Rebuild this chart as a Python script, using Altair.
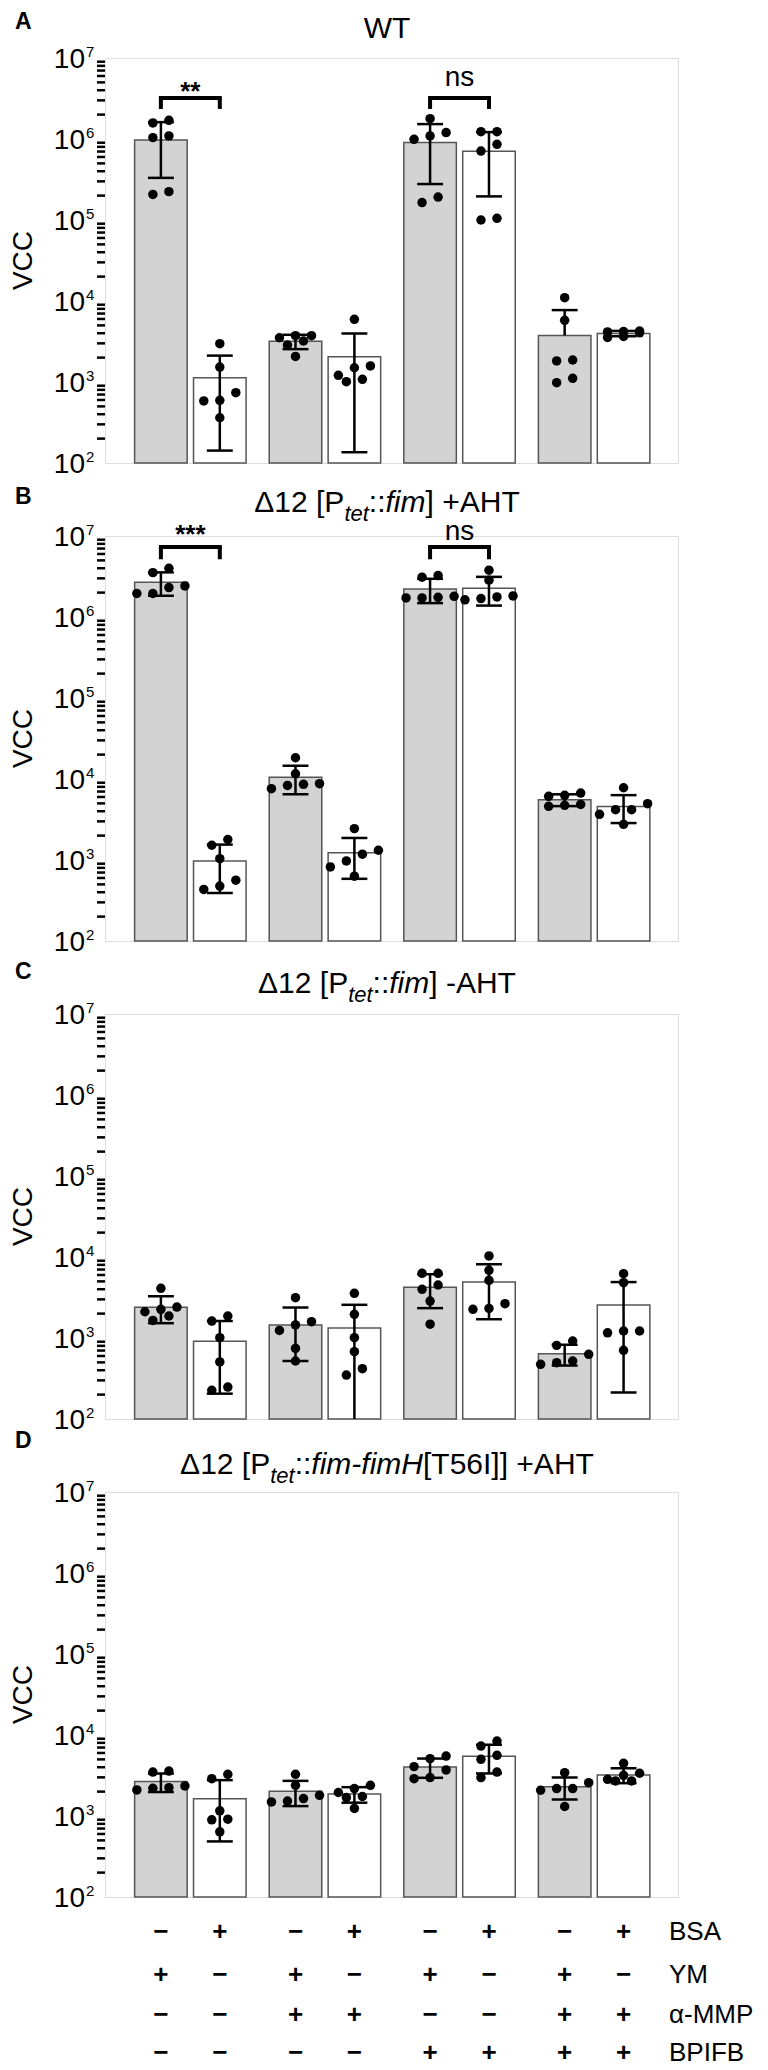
import numpy as np
import pandas as pd
import altair as alt

# ---------------- data ----------------
panel_letters = ["A", "B", "C", "D"]
# six replicate dots per bar; bar order: group0 (BSA-, BSA+), group1 (...), group2, group3
wt_dots = [
    [1.58e6, 1.70e6, 1.04e6, 1.09e6, 2.07e5, 2.24e5],
    [2970, 1530, 738, 594, 584, 362],
    [3730, 3210, 3730, 3520, 2860, 2070],
    [5940, 1580, 1500, 1010, 1210, 1080],
    [1.78e6, 1.20e6, 9.9e5, 1.09e6, 1.64e5, 1.92e5],
    [1.23e6, 1.23e6, 7.1e5, 8.6e5, 1.0e5, 1.05e5],
    [11000, 5770, 1820, 1870, 980, 1110],
    [4250, 4150, 4050, 4200, 3550, 3650],
]
aht_dots = [
    [3.53e6, 4.0e6, 1.95e6, 2.42e6, 1.95e6, 2.31e6],
    [1790, 1520, 1040, 564, 433, 476],
    [18300, 11600, 7590, 8750, 8340, 8590],
    [2440, 1320, 1180, 975, 822, 632],
    [3.10e6, 3.25e6, 1.72e6, 1.80e6, 1.72e6, 1.75e6],
    [3.78e6, 2.85e6, 1.63e6, 1.82e6, 1.69e6, 1.77e6],
    [6110, 6710, 6280, 4600, 4860, 4730],
    [7800, 4180, 4960, 4180, 3660, 2760],
]
noaht_dots = [
    [4100, 2260, 2110, 2410, 1650, 1870],
    [1620, 1870, 1010, 506, 226, 248],
    [3150, 1590, 1450, 1240, 745, 520],
    [3560, 1960, 1010, 678, 349, 418],
    [6280, 6280, 3990, 4510, 2860, 1480],
    [10300, 6840, 5150, 2650, 2260, 2320],
    [811, 918, 629, 520, 473, 496],
    [6220, 4820, 1220, 1160, 1220, 705],
]
t56i_dots = [
    [3490, 3590, 2100, 2350, 2200, 2240],
    [2890, 3270, 1160, 914, 898, 638],
    [3270, 2390, 1800, 1490, 1530, 1640],
    [2390, 2180, 1950, 1740, 1690, 1240],
    [5100, 5500, 3700, 4070, 2890, 2980],
    [8410, 7310, 5010, 5610, 2980, 3490],
    [3430, 2580, 2180, 2180, 2080, 1310],
    [4470, 3370, 3180, 2710, 2840, 2710],
]
panel_dots = [wt_dots, aht_dots, noaht_dots, t56i_dots]

# significance brackets
sig_panel = [0, 0, 1, 1]
sig_group = [0, 2, 0, 2]
sig_text = ["**", "ns", "***", "ns"]
sig_top = [3.2e6, 3.2e6, 7.33e6, 7.33e6]
sig_leg = [2.35e6, 2.35e6, 5.16e6, 5.16e6]
sig_text_y = [3.06e6, 4.5e6, 8.3e6, 9.0e6]

# treatment table under panel D
row_names = ["BSA", "YM", "α-MMP", "BPIFB"]
row_signs = [
    ["−", "+", "−", "+", "−", "+", "−", "+"],
    ["+", "−", "+", "−", "+", "−", "+", "−"],
    ["−", "−", "+", "+", "−", "−", "+", "+"],
    ["−", "−", "−", "−", "+", "+", "+", "+"],
]

# y tick labels
major_vals = [1e2, 1e3, 1e4, 1e5, 1e6, 1e7]
major_exps = ["2", "3", "4", "5", "6", "7"]

# panel titles: (text, style)  n = normal, i = italic, s = italic subscript
titles = [
    [("WT", "n")],
    [("Δ12 [P", "n"), ("tet", "s"), ("::", "n"), ("fim", "i"), ("] +AHT", "n")],
    [("Δ12 [P", "n"), ("tet", "s"), ("::", "n"), ("fim", "i"), ("] -AHT", "n")],
    [("Δ12 [P", "n"), ("tet", "s"), ("::", "n"), ("fim-fimH", "i"), ("[T56I]] +AHT", "n")],
]

# ---------------- layout / style constants ----------------
W, H = 573, 405
PAIR = 2.285          # distance between treatment groups, in bar-pitch units
HALF = 0.446          # half bar width
CAP = 0.22            # half error-cap width
JSTEP = 0.136         # horizontal dot spread step
GRAY = "#d3d3d3"
FONT = "Liberation Sans"
title_base = [-20, -24, -21, -18]
letter_base = [-29, -32, -35, -44]
row_y = [440, 483, 523, 561]

AW = {' ': 278, 'Δ': 668, '1': 556, '2': 556, '5': 556, '6': 556, '[': 278, ']': 278,
      'P': 667, 't': 278, 'e': 556, ':': 278, 'f': 278, 'i': 222, 'm': 833, '-': 333,
      '+': 584, 'A': 667, 'H': 722, 'T': 611, 'I': 278, 'W': 944}


def tw(s, size):
    return sum(AW.get(ch, 556) for ch in s) / 1000.0 * size


def spread(vals, thr=0.1):
    lg = np.log10(np.array(vals, dtype=float))
    order = list(np.argsort(lg))
    out = np.zeros(len(vals))
    clusters, cur = [], [order[0]]
    for i in order[1:]:
        if lg[i] - lg[cur[-1]] < thr:
            cur.append(i)
        else:
            clusters.append(cur)
            cur = [i]
    clusters.append(cur)
    final = []
    for cl in clusters:
        if len(cl) > 4:
            h = len(cl) // 2
            final += [cl[:h], cl[h:]]
        else:
            final.append(cl)
    for cl in final:
        k = len(cl)
        for r, i in enumerate(cl):
            out[i] = 2 * r - (k - 1)
    return out


rows = []
for p, bars in enumerate(panel_dots):
    for k, vals in enumerate(bars):
        js = spread(vals)
        for v, j in zip(vals, js):
            rows.append(dict(panel=p, g=k // 2, c=k % 2, v=float(v), j=float(j)))
dots_df = pd.DataFrame(rows)

minor_vals = [m * 10 ** e for e in range(2, 7) for m in range(2, 10)]

xs = alt.Scale(domain=[-0.949, 8.779], nice=False, zero=False)
ys = alt.Scale(type="log", domain=[100, 10000000], nice=False, clamp=True)

xaxis = alt.Axis(labels=False, ticks=False, title=None, grid=False,
                 domainWidth=5, domainColor="black")
yaxis = alt.Axis(values=major_vals, labels=False, title=None, grid=False,
                 domainWidth=5, domainColor="black", tickColor="black",
                 tickSize=12, tickWidth=4)


def one(text):
    return alt.Chart(pd.DataFrame({"t": [text]}))


def panel(p):
    d = dots_df[dots_df.panel == p]
    base = alt.Chart(d)
    agg = base.transform_aggregate(
        m="mean(v)", sd="stdev(v)", groupby=["g", "c"]
    ).transform_calculate(
        pos=f"{PAIR}*datum.g + datum.c",
        xl=f"{PAIR}*datum.g + datum.c - {HALF}",
        xr=f"{PAIR}*datum.g + datum.c + {HALF}",
        cl=f"{PAIR}*datum.g + datum.c - {CAP}",
        cr=f"{PAIR}*datum.g + datum.c + {CAP}",
        base="100",
        hi="datum.m + datum.sd",
        lo2="datum.m - datum.sd",
        lo="datum.m - datum.sd > 0 ? datum.m - datum.sd : datum.m",
    )
    layers = []
    layers.append(agg.mark_rect(stroke="#555555", strokeWidth=1.5).encode(
        x=alt.X("xl:Q", scale=xs, axis=xaxis), x2="xr:Q",
        y=alt.Y("m:Q", scale=ys, axis=yaxis), y2="base:Q",
        fill=alt.condition("datum.c == 0", alt.value(GRAY), alt.value("white")),
    ))
    layers.append(agg.mark_rule(strokeWidth=2.5, color="black").encode(
        x=alt.X("pos:Q", scale=xs, axis=None),
        y=alt.Y("lo:Q", scale=ys, axis=None), y2="hi:Q"))
    layers.append(agg.mark_rule(strokeWidth=2.5, color="black").encode(
        x=alt.X("cl:Q", scale=xs, axis=None), x2="cr:Q",
        y=alt.Y("hi:Q", scale=ys, axis=None)))
    layers.append(agg.transform_filter("datum.lo2 >= 100").mark_rule(strokeWidth=2.5, color="black").encode(
        x=alt.X("cl:Q", scale=xs, axis=None), x2="cr:Q",
        y=alt.Y("lo2:Q", scale=ys, axis=None)))
    layers.append(base.transform_calculate(
        px=f"{PAIR}*datum.g + datum.c + {JSTEP}*datum.j"
    ).mark_circle(size=90, color="black", opacity=1).encode(
        x=alt.X("px:Q", scale=xs, axis=None),
        y=alt.Y("v:Q", scale=ys, axis=None)))

    # minor log ticks
    layers.append(alt.Chart(pd.DataFrame({"t": minor_vals})).mark_rule(
        strokeWidth=2.5, color="black").encode(
        x=alt.value(-8), x2=alt.value(0), y=alt.Y("t:Q", scale=ys, axis=None)))
    # tick labels 10^n
    tl = pd.DataFrame({"t": major_vals, "e": major_exps})
    layers.append(alt.Chart(tl).mark_text(align="right", baseline="alphabetic", fontSize=28,
                                          dy=10, color="black").encode(
        x=alt.value(-20), y=alt.Y("t:Q", scale=ys, axis=None), text=alt.value("10")))
    layers.append(alt.Chart(tl).mark_text(align="left", baseline="alphabetic", fontSize=15,
                                          dy=-1, color="black").encode(
        x=alt.value(-19), y=alt.Y("t:Q", scale=ys, axis=None), text="e:N"))
    # axis title
    layers.append(one("VCC").mark_text(angle=270, fontSize=28, align="center", baseline="middle",
                                       color="black").encode(
        x=alt.value(-81), y=alt.value(H / 2), text="t:N"))
    # panel letter
    layers.append(one(panel_letters[p]).mark_text(fontSize=23, fontWeight="bold", align="left",
                                                  baseline="alphabetic", color="black").encode(
        x=alt.value(-90), y=alt.value(letter_base[p]), text="t:N"))
    # title with mixed styles
    F, FS = 30, 22
    segs = titles[p]
    widths = [tw(s, FS if st == "s" else F) for s, st in segs]
    x0 = 282 - sum(widths) / 2
    for (s, st), w in zip(segs, widths):
        size = FS if st == "s" else F
        yb = title_base[p] + (9 if st == "s" else 0)
        layers.append(one(s).mark_text(fontSize=size, fontStyle="italic" if st in ("i", "s") else "normal",
                                       align="left", baseline="alphabetic", color="black").encode(
            x=alt.value(x0), y=alt.value(yb), text="t:N"))
        x0 += w
    # significance brackets
    for i in range(len(sig_panel)):
        if sig_panel[i] != p:
            continue
        sd = pd.DataFrame({"g": [sig_group[i]], "top": [sig_top[i]], "leg": [sig_leg[i]],
                           "ty": [sig_text_y[i]], "lab": [sig_text[i]]})
        sb = alt.Chart(sd).transform_calculate(
            p0=f"{PAIR}*datum.g", p1=f"{PAIR}*datum.g + 1", mid=f"{PAIR}*datum.g + 0.5")
        layers.append(sb.mark_rule(strokeWidth=4, color="black", strokeCap="square").encode(
            x=alt.X("p0:Q", scale=xs, axis=None), x2="p1:Q", y=alt.Y("top:Q", scale=ys, axis=None)))
        for col in ("p0", "p1"):
            layers.append(sb.mark_rule(strokeWidth=4, color="black").encode(
                x=alt.X(f"{col}:Q", scale=xs, axis=None),
                y=alt.Y("top:Q", scale=ys, axis=None), y2="leg:Q"))
        star = sig_text[i] != "ns"
        layers.append(sb.mark_text(fontSize=26 if star else 28, fontWeight="bold" if star else "normal",
                                   align="center", baseline="alphabetic", color="black").encode(
            x=alt.X("mid:Q", scale=xs, axis=None), y=alt.Y("ty:Q", scale=ys, axis=None), text="lab:N"))
    # treatment table
    if p == 3:
        for r in range(4):
            sdf = pd.DataFrame({"k": list(range(8)), "s": row_signs[r]})
            layers.append(alt.Chart(sdf).transform_calculate(
                pos=f"{PAIR}*floor(datum.k/2) + datum.k % 2"
            ).mark_text(fontSize=26, fontWeight="bold", align="center", baseline="middle",
                        color="black").encode(
                x=alt.X("pos:Q", scale=xs, axis=None), y=alt.value(row_y[r]), text="s:N"))
            layers.append(one(row_names[r]).mark_text(fontSize=26, align="left", baseline="middle",
                                                      color="black").encode(
                x=alt.value(564), y=alt.value(row_y[r]), text="t:N"))
    return alt.layer(*layers).properties(width=W, height=H)


chart = alt.vconcat(*[panel(p) for p in range(4)], spacing=73, bounds="flush").properties(
    padding={"left": 1, "top": 2, "right": 0, "bottom": 0}
).configure_view(stroke=None).configure(font=FONT)

chart.save("out.html", embed_options={"renderer": "svg", "actions": False})
